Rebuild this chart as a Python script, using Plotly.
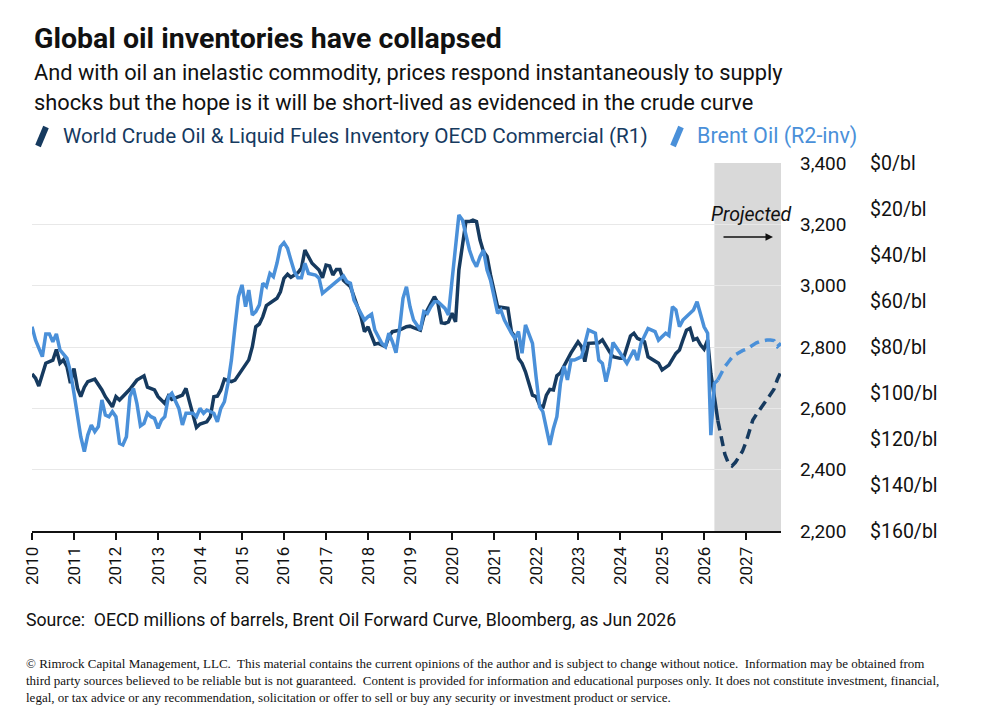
import plotly.graph_objects as go

# ---------------- data (month offsets from Jan 2010) ----------------
inv_month = [0,1,2,4,6,7,8,9,10,11,12,13,14,15,16,18,20,21,23,24,25,27,28,30,32,33,35,36,38,39,40,43,44,45,46,47,48,50,51,52,53,54,55,57,58,60,62,63,64,65,66,67,68,70,71,72,73,74,76,77,78,80,82,83,84,85,86,87,88,89,91,93,94,95,96,98,99,101,102,103,105,107,108,109,111,112,113,115,116,117,118,119,120,121,122,124,125,126,127,128,129,130,131,133,136,137,138,139,140,141,143,144,145,146,147,148,149,150,151,154,156,157,158,159,162,163,165,166,168,169,171,172,173,175,176,179,180,182,184,185,186,187,188,189,190,191,192,193,194,195,196]
inv_value = [2712,2698,2673,2747,2757,2792,2747,2758,2736,2682,2730,2665,2638,2669,2687,2695,2660,2638,2605,2638,2627,2649,2662,2692,2706,2669,2660,2638,2616,2640,2629,2643,2665,2622,2584,2538,2549,2556,2573,2638,2640,2660,2695,2687,2692,2725,2758,2801,2866,2875,2899,2935,2943,2959,2980,3024,3037,3027,3042,3057,3116,3073,3051,3026,3067,3064,3035,3053,3053,3018,2997,2937,2899,2850,2866,2809,2812,2801,2834,2850,2855,2866,2868,2863,2855,2899,2921,2964,2943,2879,2877,2882,2910,2882,3051,3209,3209,3214,3209,3149,3111,3095,3035,2931,2926,2850,2834,2763,2747,2719,2643,2638,2611,2600,2643,2662,2660,2706,2716,2781,2817,2801,2752,2812,2814,2823,2785,2768,2763,2763,2836,2845,2828,2817,2768,2747,2725,2741,2779,2790,2823,2855,2861,2823,2828,2807,2793,2823,2714,2638,2560]

inv_proj_month = [196,197,198,199,200,201,202,203,204,205,206,207,208,209,210,211,212,213,214]
inv_proj_value = [2560,2500,2450,2421,2412,2424,2440,2460,2490,2530,2562,2580,2595,2612,2627,2645,2662,2695,2720]

brent_month = [0,1,3,4,5,6,7,8,10,11,12,13,14,15,16,17,18,19,20,21,22,23,24,25,26,27,28,29,30,31,32,33,34,35,36,37,38,39,40,42,43,44,46,47,48,49,50,52,53,54,55,56,57,58,59,60,61,62,63,64,65,66,67,68,69,70,71,72,73,74,75,76,77,78,79,81,82,83,84,86,87,89,90,91,92,93,95,96,97,98,100,101,102,103,104,105,106,107,108,109,111,112,113,114,115,116,118,119,120,122,123,124,125,126,127,128,129,130,131,132,133,134,135,137,138,139,140,141,143,144,145,146,148,149,150,151,152,153,154,155,157,159,161,162,163,164,165,166,167,168,170,172,173,174,176,178,179,181,182,183,184,185,186,187,188,189,190,192,193,194,195,196]
brent_value = [71.2,77,84.2,74.3,74.3,77.7,74.3,81.3,84.9,90.7,100.1,110.3,119,125.5,118.3,113.9,116.8,114.6,103,109.6,110.3,108.1,110.3,121.9,122.6,119,101.6,98,104.5,114.3,113.2,108.8,110.3,111,115.4,111.7,110.3,101.6,100.1,106.7,113.9,108.8,108.8,110.3,106.7,108.8,107.4,108.8,112.5,106.7,103.8,95.8,85.7,71.2,58.1,53,62.5,55.2,66.1,64.6,61.7,52.3,53.8,48,49.4,43.6,36.4,34.6,37.1,42.2,47.3,49.9,49.9,43.6,48,48.7,50.1,56.7,55.5,53,51.6,49.1,51.6,52.3,59.6,62.5,68.3,66.8,65.7,72.6,78.4,79.9,74,77.7,82.5,72.6,58.8,53.8,62.5,68.3,72.6,64.6,65.4,62.5,60.3,60.3,63.2,66.1,50.1,22.6,24.8,32,37.8,42.2,45.1,40.7,37.8,46.5,50.9,58.1,65.4,63.9,68.3,74,76.2,73.3,82.7,70.4,78.4,92.9,106,108.1,122.6,115.4,110.3,95.8,88.3,94.3,85.7,85.7,84.2,72.6,74,85.7,87.1,95.1,88.6,78,80,82.5,87.1,81.3,85.7,78.5,72,73.3,77,74,75,62.5,63.9,71.2,68.3,66.8,65.5,63.9,60.3,71.2,74,118.3,95.8,94.3]

brent_proj_month = [196,197,198,199,200,201,202,203,204,205,206,207,208,209,210,211,212,213,214]
brent_proj_value = [94.3,91,88.5,86.5,84.5,83.3,82.2,81.6,81,80,78.8,78.2,77.6,77.2,77,77,77.2,79.8,78.4]

inv_ticks = [2200, 2400, 2600, 2800, 3000, 3200, 3400]
brent_ticks = [0, 20, 40, 60, 80, 100, 120, 140, 160]
brent_ticktext = ["$%d/bl" % v for v in brent_ticks]
year_ticks = list(range(2010, 2028))

projection_start = "2026-04-01"
axis_end = "2027-11-01"


def to_date(m):
    return "%d-%02d-01" % (2010 + m // 12, m % 12 + 1)


DARK = "#163A5F"
LIGHT = "#4A90D9"
FONT = "Roboto"

W, H = 981, 716
ML, MR, MT, MB = 32, 20, 163, 185
PW = W - ML - MR
PH = H - MT - MB


def px(x):
    return (x - ML) / PW


def py(y):
    return (H - MB - y) / PH


fig = go.Figure()
fig.add_trace(go.Scatter(x=[to_date(m) for m in inv_month], y=inv_value, mode="lines",
                         line=dict(color=DARK, width=3.5), yaxis="y", showlegend=False))
fig.add_trace(go.Scatter(x=[to_date(m) for m in inv_proj_month], y=inv_proj_value, mode="lines",
                         line=dict(color=DARK, width=3.5, dash="10px,6px"), yaxis="y", showlegend=False))
fig.add_trace(go.Scatter(x=[to_date(m) for m in brent_month], y=brent_value, mode="lines",
                         line=dict(color=LIGHT, width=3.5), yaxis="y2", showlegend=False))
fig.add_trace(go.Scatter(x=[to_date(m) for m in brent_proj_month], y=brent_proj_value, mode="lines",
                         line=dict(color=LIGHT, width=3.5, dash="10px,6px"), yaxis="y2", showlegend=False))

x_end = (781 - ML) / PW

fig.update_layout(
    width=W, height=H,
    margin=dict(l=ML, r=MR, t=MT, b=MB),
    paper_bgcolor="white", plot_bgcolor="white",
    font=dict(family=FONT, color="#111111"),
    xaxis=dict(type="date", domain=[0, x_end], range=["2010-01-01", axis_end],
               tickvals=["%d-01-01" % y for y in year_ticks], ticktext=[str(y) for y in year_ticks],
               tickangle=-90, ticks="outside", ticklen=7, tickwidth=1.5, tickcolor="#111111",
               showline=True, linecolor="#111111", linewidth=2, showgrid=False, zeroline=False,
               tickfont=dict(size=17, color="#111111")),
    yaxis=dict(range=[2200, 3400], tickvals=inv_ticks, tickformat=",", side="right", anchor="x",
               showgrid=True, gridcolor="#E8E8E8", gridwidth=1, zeroline=False, showline=False,
               ticks="", ticklabelstandoff=18, tickfont=dict(size=19, color="#111111")),
    yaxis2=dict(range=[160, 0], tickvals=brent_ticks, ticktext=brent_ticktext, overlaying="y",
                side="right", anchor="free", position=px(861), showgrid=False, zeroline=False,
                showline=False, ticks="", ticklabelstandoff=8, tickfont=dict(size=19.5, color="#111111")),
)

fig.add_shape(type="rect", xref="x", yref="paper", x0=projection_start, x1=axis_end, y0=0, y1=1,
              fillcolor="#D9D9D9", line=dict(width=0), layer="between")

# legend icons
fig.add_shape(type="line", xref="paper", yref="paper", x0=px(38), y0=py(146), x1=px(46), y1=py(127),
              line=dict(color=DARK, width=6))
fig.add_shape(type="line", xref="paper", yref="paper", x0=px(673), y0=py(146), x1=px(681), y1=py(127),
              line=dict(color=LIGHT, width=6))

ann = []
ann.append(dict(text="<b>Global oil inventories have collapsed</b>", x=px(32), y=py(38),
                font=dict(size=28.5, color="#111111")))
ann.append(dict(text="And with oil an inelastic commodity, prices respond instantaneously to supply",
                x=px(32), y=py(73), font=dict(size=21.8, color="#111111")))
ann.append(dict(text="shocks but the hope is it will be short-lived as evidenced in the crude curve",
                x=px(32), y=py(102), font=dict(size=21.8, color="#111111")))
ann.append(dict(text="World Crude Oil &amp; Liquid Fules Inventory OECD Commercial (R1)",
                x=px(61), y=py(136), font=dict(size=20.7, color=DARK)))
ann.append(dict(text="Brent Oil (R2-inv)", x=px(695), y=py(136), font=dict(size=21.5, color=LIGHT)))
ann.append(dict(text="Source:  OECD millions of barrels, Brent Oil Forward Curve, Bloomberg, as Jun 2026",
                x=px(24), y=py(620), font=dict(size=17.7, color="#111111")))
for a in ann:
    a.update(xref="paper", yref="paper", xanchor="left", yanchor="middle", showarrow=False)
    fig.add_annotation(**a)

fig.add_annotation(
    text=("© Rimrock Capital Management, LLC.  This material contains the current opinions of the author and is subject to change without notice.  Information may be obtained from<br>"
          "third party sources believed to be reliable but is not guaranteed.  Content is provided for information and educational purposes only. It does not constitute investment, financial,<br>"
          "legal, or tax advice or any recommendation, solicitation or offer to sell or buy any security or investment product or service."),
    xref="paper", yref="paper", x=px(24), y=py(654), xanchor="left", yanchor="top", align="left",
    showarrow=False, font=dict(family="Liberation Serif", size=13, color="#111111"))

fig.add_annotation(text="<i>Projected</i>", xref="paper", yref="paper", x=px(751), y=py(214),
                   xanchor="center", yanchor="middle", showarrow=False,
                   font=dict(size=19.5, color="#111111"))
fig.add_annotation(text="", xref="paper", yref="paper", x=px(773), y=py(237), ax=-51, ay=0,
                   showarrow=True, arrowhead=2, arrowsize=1, arrowwidth=1.5, arrowcolor="#111111")

fig.write_html("out.html")
